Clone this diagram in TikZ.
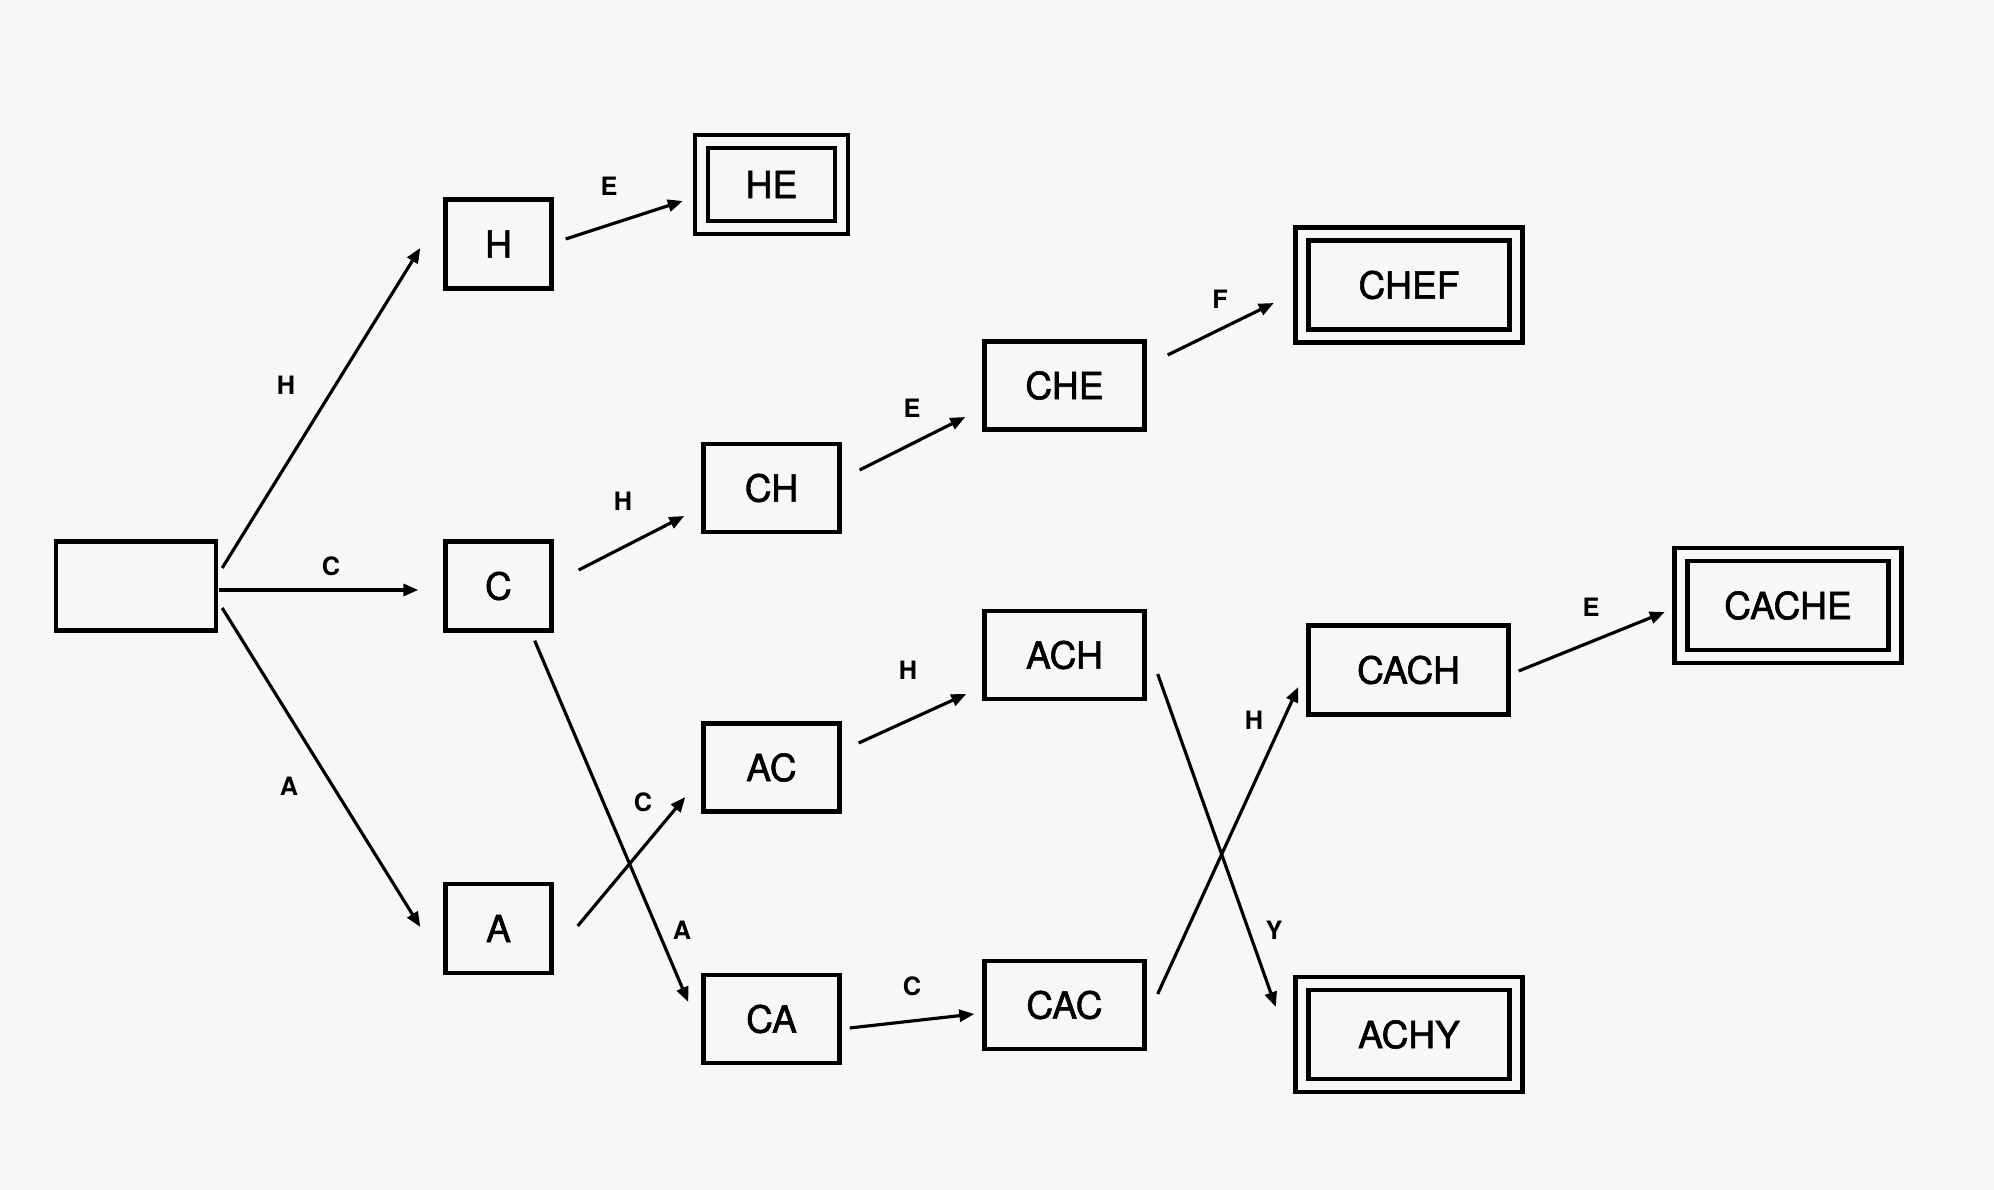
\documentclass[tikz,border=0pt]{standalone}
\usepackage{fontspec}
\setmainfont{TeX Gyre Heros}
\newfontfamily\statefont[FakeBold=1.6]{TeX Gyre Heros}
\usetikzlibrary{arrows.meta,positioning,calc}
\definecolor{bgcol}{HTML}{F7F7F7}

\begin{document}
\begin{tikzpicture}[
    box/.style={rectangle, draw, line width=1.25pt, fill=bgcol, inner sep=0pt,
        minimum height=0.89cm, font=\statefont\fontsize{10.6}{12}\selectfont},
    final/.style={box, double=bgcol, double distance=0.085cm, minimum width=2.14cm, minimum height=1.02cm},
    edge/.style={-{Triangle[length=0.15cm,width=0.12cm]}, line width=0.9pt},
    lbl/.style={font=\bfseries\fontsize{7.2}{8}\selectfont, inner sep=0pt}
]
\fill[bgcol] (0,0) rectangle (19.94,-11.90);
\useasboundingbox (0,0) rectangle (19.94,-11.90);

% states
\node[box, minimum width=1.60cm] (root) at (1.36,-5.86) {};
\node[box, minimum width=1.06cm] (H) at (4.985,-2.44) {H};
\node[box, minimum width=1.06cm] (C) at (4.985,-5.86) {C};
\node[box, minimum width=1.06cm] (A) at (4.985,-9.285) {A};
\node[final, minimum width=1.40cm, minimum height=0.86cm] (HE) at (7.715,-1.845) {HE};
\node[box, minimum width=1.36cm, minimum height=0.88cm] (CH) at (7.715,-4.88) {CH};
\node[box, minimum width=1.36cm, minimum height=0.88cm] (AC) at (7.715,-7.675) {AC};
\node[box, minimum width=1.36cm, minimum height=0.88cm] (CA) at (7.715,-10.19) {CA};
\node[box, minimum width=1.60cm, minimum height=0.88cm] (CHE) at (10.645,-3.855) {CHE};
\node[box, minimum width=1.60cm, minimum height=0.88cm] (ACH) at (10.645,-6.55) {ACH};
\node[box, minimum width=1.60cm, minimum height=0.88cm] (CAC) at (10.645,-10.05) {CAC};
\node[final] (CHEF) at (14.09,-2.85) {CHEF};
\node[box, minimum width=2.00cm] (CACH) at (14.085,-6.70) {CACH};
\node[final] (CACHE) at (17.88,-6.055) {CACHE};
\node[final] (ACHY) at (14.09,-10.345) {ACHY};

% transitions
\draw[edge] ([shift={(0.04,0.18)}]root.east) -- ([shift={(-0.23,-0.04)}]H.west);
\draw[edge] ([shift={(0.01,-0.04)}]root.east) -- ([shift={(-0.25,-0.04)}]C.west);
\draw[edge] ([shift={(0.04,-0.22)}]root.east) -- ([shift={(-0.23,0.015)}]A.west);
\draw[edge] ([shift={(0.12,0.05)}]H.east) -- ([shift={(-0.165,-0.165)}]HE.west);
\draw[edge] ([shift={(0.25,0.16)}]C.east) -- ([shift={(-0.17,-0.28)}]CH.west);
\draw[edge] ([shift={(-0.19,-0.08)}]C.south east) -- ([shift={(-0.13,0.17)}]CA.west);
\draw[edge] ([shift={(0.24,0.025)}]A.east) -- ([shift={(-0.16,-0.295)}]AC.west);
\draw[edge] ([shift={(0.18,0.18)}]CH.east) -- ([shift={(-0.17,-0.315)}]CHE.west);
\draw[edge] ([shift={(0.17,0.245)}]AC.east) -- ([shift={(-0.16,-0.39)}]ACH.west);
\draw[edge] ([shift={(0.08,-0.09)}]CA.east) -- ([shift={(-0.08,-0.09)}]CAC.west);
\draw[edge] ([shift={(0.21,0.305)}]CHE.east) -- ([shift={(-0.26,-0.18)}]CHEF.west);
\draw[edge] ([shift={(0.11,-0.19)}]ACH.east) -- ([shift={(-0.24,0.275)}]ACHY.west);
\draw[edge] ([shift={(0.11,0.11)}]CAC.east) -- ([shift={(-0.08,-0.17)}]CACH.west);
\draw[edge] ([shift={(0.08,-0.01)}]CACH.east) -- ([shift={(-0.14,-0.065)}]CACHE.west);

% labels
\node[lbl] (lH) at (2.86,-3.85) {H};
\node[lbl] (lC) at (3.31,-5.66) {C};
\node[lbl] (lA) at (2.89,-7.86) {A};
\node[lbl] (lHE) at (6.09,-1.86) {E};
\node[lbl] (lCH) at (6.23,-5.01) {H};
\node[lbl] (lCA) at (6.82,-9.30) {A};
\node[lbl] (lAC) at (6.43,-8.02) {C};
\node[lbl] (lCHE) at (9.12,-4.08) {E};
\node[lbl] (lACH) at (9.08,-6.70) {H};
\node[lbl] (lCAC) at (9.12,-9.86) {C};
\node[lbl] (lCHEF) at (12.20,-2.99) {F};
\node[lbl] (lACHY) at (12.74,-9.30) {Y};
\node[lbl] (lCACH) at (12.54,-7.20) {H};
\node[lbl] (lCACHE) at (15.91,-6.07) {E};
\end{tikzpicture}
\end{document}
